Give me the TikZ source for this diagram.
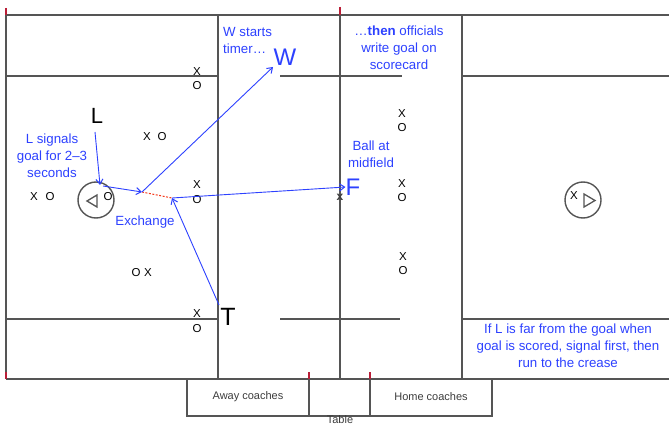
\documentclass[tikz,border=0pt]{standalone}
\usepackage{fontspec}
\setmainfont{Liberation Sans}
\usetikzlibrary{arrows.meta}
\definecolor{fieldgray}{RGB}{85,85,85}
\definecolor{noteblue}{RGB}{45,65,255}
\definecolor{tickred}{RGB}{185,30,55}
\definecolor{exred}{RGB}{245,60,30}
\definecolor{coachgray}{RGB}{60,60,60}
\begin{document}
\begin{tikzpicture}[x=1pt,y=-1pt,
  fieldline/.style={draw=fieldgray,line width=1.4pt},
  redtick/.style={draw=tickred,line width=1.6pt},
  note/.style={text=noteblue,font=\fontsize{13.3}{17}\selectfont,align=center,inner sep=0pt},
  bigletter/.style={font=\fontsize{24}{24}\selectfont,inner sep=0pt},
  player/.style={font=\fontsize{11.5}{11.5}\selectfont,inner sep=0pt},
  coach/.style={text=coachgray,font=\fontsize{11}{13}\selectfont,inner sep=0pt},
  move/.style={draw=noteblue,line width=0.9pt,-{Straight Barb[length=5pt,width=7pt,line width=1pt]}},
  exline/.style={draw=exred,line width=1pt,dash pattern=on 2pt off 1.5pt}]
\useasboundingbox (0,0) rectangle (669,425);
\clip (0,0) rectangle (669,425);
% field
\draw[fieldline] (6,15) -- (669,15);
\draw[fieldline] (6,379) -- (669,379);
\draw[fieldline] (6,15) -- (6,379);
\draw[fieldline] (218,15) -- (218,379);
\draw[fieldline] (340,15) -- (340,379);
\draw[fieldline] (462,15) -- (462,379);
\draw[fieldline] (6,76) -- (218,76);
\draw[fieldline] (280,76) -- (402,76);
\draw[fieldline] (462,76) -- (669,76);
\draw[fieldline] (6,319) -- (218,319);
\draw[fieldline] (280,319) -- (400,319);
\draw[fieldline] (462,319) -- (669,319);
% table
\draw[fieldline] (187,379) -- (187,416) -- (492,416) -- (492,379);
\draw[fieldline] (309,372) -- (309,416);
\draw[fieldline] (370,372) -- (370,416);
% red ticks
\draw[redtick] (6,8) -- (6,15);
\draw[redtick] (340,7) -- (340,15);
\draw[redtick] (6,372) -- (6,379);
\draw[redtick] (309,372) -- (309,379);
\draw[redtick] (370,372) -- (370,379);
% creases
\draw[fieldline] (96,200) circle (18);
\draw[fieldline] (583,200) circle (18);
\draw[draw=fieldgray,line width=1.3pt] (87,201) -- (97,195) -- (97,207) -- cycle;
\draw[draw=fieldgray,line width=1.3pt] (584,194) -- (595,200.5) -- (584,207) -- cycle;
\node[player] (lcO) at (108,197) {O};
\node[player] (rcX) at (574,196) {X};
% players
\node[player] (p1) at (34,197) {X};
\node[player] (p2) at (50,197) {O};
\node[player] (p3) at (147,137) {X};
\node[player] (p4) at (162,137) {O};
\node[player] (p5) at (136,273) {O};
\node[player] (p6) at (148,273) {X};
\node[player] (p7) at (197,72) {X};
\node[player] (p8) at (197,86) {O};
\node[player] (p9) at (197,185) {X};
\node[player] (p10) at (197,200) {O};
\node[player] (p11) at (197,314) {X};
\node[player] (p12) at (197,329) {O};
\node[player] (p13) at (402,114) {X};
\node[player] (p14) at (402,128) {O};
\node[player] (p15) at (402,184) {X};
\node[player] (p16) at (402,198) {O};
\node[player] (p17) at (403,257) {X};
\node[player] (p18) at (403,271) {O};
\node[player,font=\bfseries\fontsize{12}{12}\selectfont,text=coachgray] (bx) at (340,197) {x};
% officials
\node[bigletter,font=\fontsize{22}{22}\selectfont] (L) at (97,116) {L};
\node[bigletter,text=noteblue] (W) at (285,57) {W};
\node[bigletter,text=noteblue] (F) at (353,187) {F};
\node[bigletter,font=\fontsize{25}{25}\selectfont] (T) at (228,317) {T};
% notes
\node[note,align=left,anchor=west] (n1) at (223,40) {W starts\\timer…};
\node[note] (n2) at (399,48) {…\textbf{then} officials\\write goal on\\scorecard};
\node[note] (n3) at (371,154) {Ball at\\midfield};
\node[note] (n4) at (52,156) {L signals\\goal for 2–3\\seconds};
\node[note] (n5) at (145,222) {Exchange};
\node[note] (n6) at (568,346) {If L is far from the goal when\\goal is scored, signal first, then\\run to the crease};
\node[coach] (away) at (248,397) {Away coaches};
\node[coach] (home) at (431,397) {Home coaches};
\node[coach] (table) at (340,419.5) {Table};
% connectors
\coordinate (Lfrom) at (95,132);
\coordinate (crease) at (100,185);
\coordinate (cstart) at (103,186);
\coordinate (ex1) at (142,192);
\coordinate (ex2) at (172,198);
\coordinate (Wtip) at (273,67);
\coordinate (Tfrom) at (219,305);
\draw[move] (Lfrom) -- (crease);
\draw[move] (cstart) -- (ex1);
\draw[exline] (ex1) -- (ex2);
\draw[move] (ex1) -- (Wtip);
\draw[move] (ex2) -- (F.west);
\draw[move] (Tfrom) -- (ex2);
\end{tikzpicture}
\end{document}
